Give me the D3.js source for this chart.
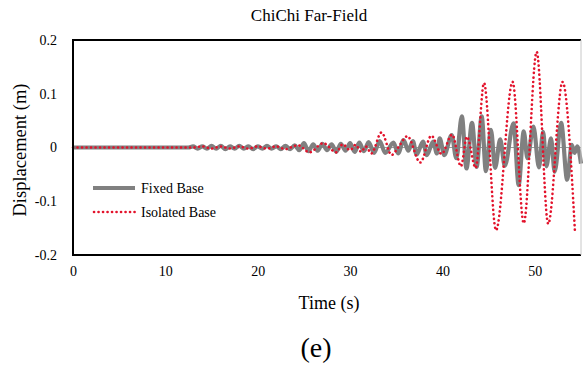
<!DOCTYPE html>
<html>
<head>
<meta charset="utf-8">
<script src="https://cdn.jsdelivr.net/npm/d3@7"></script>
<style>
  body { margin: 0; background: #fff; }
  text { font-family: "Liberation Serif", "Times New Roman", serif; fill: #000; }
</style>
</head>
<body>
<svg width="583" height="367"></svg>
<script>
// values (time in s, displacement in m)
var fixedTime = [0, 12.5, 13, 13.5, 14, 14.5, 15, 15.5, 16, 16.5, 17, 17.5, 18, 18.5, 19, 19.5,
    20, 20.5, 21, 21.5, 22, 22.5, 23, 23.5, 24, 24.5, 25, 25.5, 26, 26.5, 27, 27.5, 28, 28.5,
    29, 29.5, 30, 30.5, 31, 31.5, 32, 32.6, 33.2, 33.8, 34.7, 35.2, 35.8, 36.3, 36.8, 37.2,
    37.9, 38.3, 39.0, 39.4, 39.7, 40.2, 41.0, 41.5, 42.1, 42.6, 43.2, 43.7, 44.25, 44.7, 45.25,
    45.7, 46.25, 46.75, 47.7, 48.25, 48.8, 49.2, 49.85, 50.45, 50.9, 51.25, 51.75, 52.15, 52.85,
    53.5, 54.0, 54.3, 54.6, 55.0];
var fixedDisp = [0, 0, 0.002, -0.002, 0.002, -0.002, 0.003, -0.002, 0.003, -0.003, 0.002, -0.002,
    0.003, -0.002, 0.002, -0.003, 0.002, -0.002, 0.003, -0.002, 0.002, -0.003, 0.003, -0.003,
    0.004, -0.005, 0.008, -0.007, 0.006, -0.006, 0.007, -0.005, 0.006, -0.008, 0.007, -0.006,
    0.008, -0.008, 0.009, -0.007, 0.01, -0.01, 0.012, -0.01, 0.009, -0.011, 0.014, -0.006,
    0.012, -0.013, 0.011, -0.014, 0.011, -0.011, 0.017, -0.014, 0.023, -0.02, 0.058, -0.039,
    0.046, -0.036, 0.058, -0.044, 0.033, -0.038, 0.015, -0.034, 0.045, -0.07, 0.03, -0.02,
    0.039, -0.037, 0.029, -0.035, 0.017, -0.045, 0.046, -0.06, 0.005, -0.01, 0.002, -0.03];

var isolatedTime = [0, 13, 14, 15, 16, 17, 18, 19, 20, 21, 22, 23, 24, 24.4, 25.6, 27.1, 28.5,
    29.2, 30.0, 30.6, 31.2, 31.7, 32.3, 33.4, 34.5, 35.2, 36.2, 37.6, 38.8, 39.9, 41.05, 42.0,
    42.65, 43.6, 44.5, 45.8, 47.6, 48.8, 50.2, 51.45, 53.0, 54.35];
var isolatedDisp = [0, 0, 0.002, -0.002, 0.002, -0.002, 0.002, -0.002, 0.002, -0.002, 0.002,
    -0.003, 0.003, 0.004, -0.009, 0.008, -0.009, 0.006, -0.005, 0.005, -0.008, 0.002, -0.011,
    0.028, -0.014, 0.0, 0.021, -0.028, 0.022, -0.012, 0.024, -0.035, 0.02, -0.038, 0.12,
    -0.154, 0.122, -0.141, 0.178, -0.142, 0.122, -0.158];

var xTicks = [0, 10, 20, 30, 40, 50];
var yTicks = [-0.2, -0.1, 0, 0.1, 0.2];
var yTickLabels = ["-0.2", "-0.1", "0", "0.1", "0.2"];
var seriesNames = ["Fixed Base", "Isolated Base"];

var svg = d3.select("svg");
var plotLeft = 73, plotRight = 581, plotTop = 40, plotBottom = 255;

var x = d3.scaleLinear().domain([0, 55]).range([plotLeft, plotRight]);
var y = d3.scaleLinear().domain([-0.2, 0.2]).range([plotBottom, plotTop]);

svg.append("rect").attr("width", 583).attr("height", 367).attr("fill", "#fff");

// zero line
svg.append("line")
    .attr("x1", plotLeft).attr("x2", plotRight)
    .attr("y1", y(0)).attr("y2", y(0))
    .attr("stroke", "#9a9a9a").attr("stroke-width", 1);

var line = d3.line()
    .x(function (d) { return x(d[0]); })
    .y(function (d) { return y(d[1]); })
    .curve(d3.curveMonotoneX);

var fixed = fixedTime.map(function (t, i) { return [t, fixedDisp[i]]; });
var isolated = isolatedTime.map(function (t, i) { return [t, isolatedDisp[i]]; });

svg.append("path")
    .attr("d", line(fixed))
    .attr("fill", "none")
    .attr("stroke", "#808080")
    .attr("stroke-width", 4.2)
    .attr("stroke-linejoin", "round");

svg.append("path")
    .attr("d", line(isolated))
    .attr("fill", "none")
    .attr("stroke", "#e3122b")
    .attr("stroke-width", 2.6)
    .attr("stroke-linecap", "round")
    .attr("stroke-dasharray", "0.1 4.4");

// frame
svg.append("path")
    .attr("d", "M" + plotRight + "," + plotTop + "H" + plotLeft + "V" + plotBottom + "H" + plotRight)
    .attr("fill", "none").attr("stroke", "#000").attr("stroke-width", 2);
svg.append("line")
    .attr("x1", plotRight).attr("x2", plotRight).attr("y1", plotTop).attr("y2", plotBottom)
    .attr("stroke", "#c8c8c8").attr("stroke-width", 1);

// axes
var axisBottom = d3.axisBottom(x).tickValues(xTicks).tickSize(0).tickPadding(11);
svg.append("g")
    .attr("transform", "translate(0," + plotBottom + ")")
    .call(axisBottom)
    .call(function (g) { g.select(".domain").remove(); })
    .selectAll("text")
    .style("font-family", "'Liberation Serif', serif")
    .style("font-size", "14px")
    .attr("fill", "#000");

var axisLeft = d3.axisLeft(y).tickValues(yTicks).tickSize(0).tickPadding(16)
    .tickFormat(function (d, i) { return yTickLabels[i]; });
svg.append("g")
    .attr("transform", "translate(" + plotLeft + ",0)")
    .call(axisLeft)
    .call(function (g) { g.select(".domain").remove(); })
    .selectAll("text")
    .style("font-family", "'Liberation Serif', serif")
    .style("font-size", "14px")
    .attr("fill", "#000");

// titles
svg.append("text")
    .attr("x", 309).attr("y", 21)
    .attr("text-anchor", "middle").style("font-size", "17px")
    .text("ChiChi Far-Field");

svg.append("text")
    .attr("x", 329).attr("y", 309)
    .attr("text-anchor", "middle").style("font-size", "18px")
    .text("Time (s)");

svg.append("text")
    .attr("transform", "translate(26,150) rotate(-90)")
    .attr("text-anchor", "middle").style("font-size", "18.5px")
    .text("Displacement (m)");

svg.append("text")
    .attr("x", 316).attr("y", 357)
    .attr("text-anchor", "middle").style("font-size", "28px")
    .text("(e)");

// legend
var legend = svg.append("g").attr("transform", "translate(93,188)");
legend.append("line")
    .attr("x1", 0).attr("x2", 42).attr("y1", 0).attr("y2", 0)
    .attr("stroke", "#808080").attr("stroke-width", 4.2);
legend.append("line")
    .attr("x1", 1).attr("x2", 42).attr("y1", 24).attr("y2", 24)
    .attr("stroke", "#e3122b").attr("stroke-width", 2.6)
    .attr("stroke-linecap", "round").attr("stroke-dasharray", "0.1 4.4");
legend.selectAll("text.lg")
    .data(seriesNames)
    .enter().append("text")
    .attr("class", "lg")
    .attr("x", 48)
    .attr("y", function (d, i) { return i * 24 + 5; })
    .style("font-size", "14px")
    .text(function (d) { return d; });
</script>
</body>
</html>
